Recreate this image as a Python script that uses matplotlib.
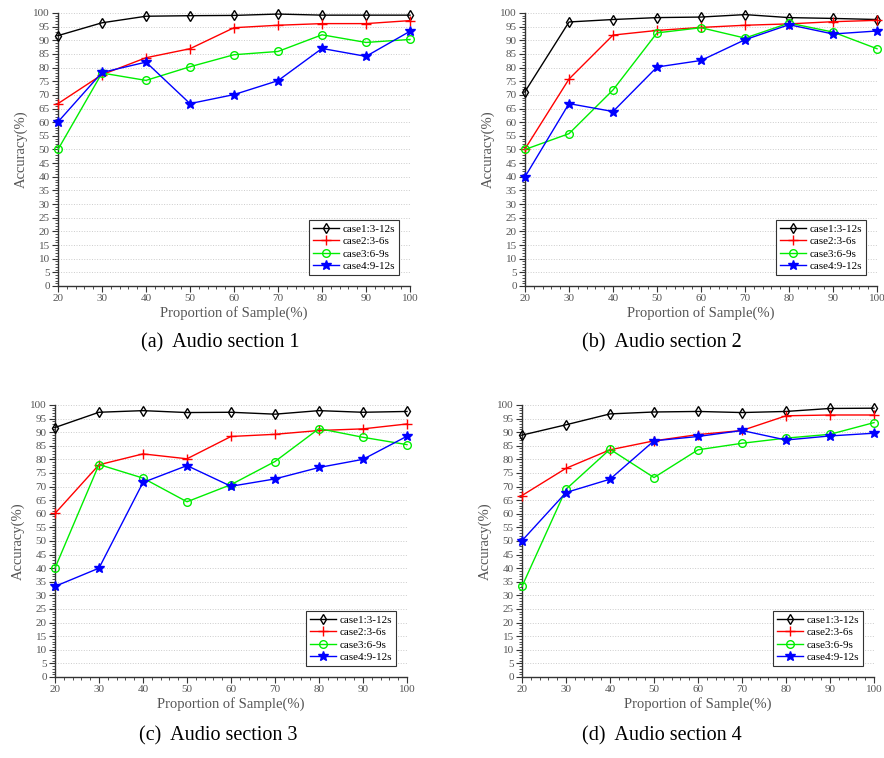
import matplotlib
matplotlib.use('Agg')
import matplotlib.pyplot as plt
from matplotlib.ticker import MultipleLocator

plt.rcParams['font.family'] = ['Liberation Serif', 'DejaVu Serif']

samples = [20, 30, 40, 50, 60, 70, 80, 90, 100]
case_names = ['case1:3-12s', 'case2:3-6s', 'case3:6-9s', 'case4:9-12s']
captions = ['(a)  Audio section 1', '(b)  Audio section 2',
            '(c)  Audio section 3', '(d)  Audio section 4']

# accuracy (%) per audio section, one list per case
sec1_case1 = [91.7, 96.4, 98.8, 99.0, 99.1, 99.6, 99.2, 99.2, 99.2]
sec1_case2 = [66.8, 77.4, 83.6, 86.9, 94.6, 95.5, 96.1, 96.1, 97.2]
sec1_case3 = [50.0, 78.0, 75.3, 80.3, 84.7, 85.9, 92.0, 89.2, 90.3]
sec1_case4 = [60.1, 78.2, 82.0, 66.8, 70.1, 75.2, 87.0, 84.1, 93.3]

sec2_case1 = [71.2, 96.7, 97.6, 98.3, 98.5, 99.4, 98.3, 98.0, 97.6]
sec2_case2 = [50.2, 75.8, 91.9, 93.6, 94.7, 95.5, 96.0, 96.8, 97.3]
sec2_case3 = [50.0, 55.8, 71.8, 92.7, 94.6, 90.8, 96.3, 93.0, 86.9]
sec2_case4 = [40.0, 66.8, 63.9, 80.2, 82.6, 90.2, 95.7, 92.3, 93.4]

sec3_case1 = [91.7, 97.3, 97.9, 97.2, 97.3, 96.6, 97.9, 97.3, 97.6]
sec3_case2 = [60.1, 78.0, 82.0, 80.2, 88.4, 89.2, 90.6, 91.2, 93.0]
sec3_case3 = [40.0, 78.1, 73.1, 64.4, 70.7, 79.2, 91.3, 88.1, 85.4]
sec3_case4 = [33.3, 40.0, 71.5, 77.7, 70.1, 72.8, 77.0, 80.0, 88.5]

sec4_case1 = [88.9, 92.7, 96.7, 97.4, 97.6, 97.2, 97.6, 98.7, 98.8]
sec4_case2 = [66.7, 76.7, 83.5, 86.8, 89.1, 90.6, 96.0, 96.3, 96.3]
sec4_case3 = [33.3, 69.0, 83.7, 73.3, 83.5, 85.9, 87.8, 89.2, 93.5]
sec4_case4 = [50.1, 67.8, 72.7, 86.8, 88.4, 90.6, 87.1, 88.6, 89.6]

sections = [
    [sec1_case1, sec1_case2, sec1_case3, sec1_case4],
    [sec2_case1, sec2_case2, sec2_case3, sec2_case4],
    [sec3_case1, sec3_case2, sec3_case3, sec3_case4],
    [sec4_case1, sec4_case2, sec4_case3, sec4_case4],
]

colors = ['black', '#ff0000', '#00ee00', '#0000ff']
markers = ['d', '+', 'o', '*']
facecols = ['none', '#ff0000', 'none', '#0000ff']
msizes = [5.5, 6.5, 5.5, 7]

txt_col = '#555555'

# axes boxes in figure fraction [left, bottom, width, height]
boxes = [
    [0.0656, 0.6227, 0.3982, 0.3602],
    [0.5939, 0.6227, 0.3982, 0.3602],
    [0.0622, 0.1069, 0.3982, 0.3589],
    [0.5905, 0.1069, 0.3982, 0.3589],
]
cap_pos = [(0.249, 0.535), (0.749, 0.535), (0.247, 0.017), (0.749, 0.017)]

fig = plt.figure(figsize=(8.84, 7.58), dpi=100)

for i, data in enumerate(sections):
    ax = fig.add_axes(boxes[i])
    for j, vals in enumerate(data):
        ax.plot(samples, vals, color=colors[j], marker=markers[j], lw=1.0,
                ms=msizes[j], mfc=facecols[j], mec=colors[j], mew=1.0,
                label=case_names[j], clip_on=False, zorder=3 + j)
    ax.set_xlim(20, 100)
    ax.set_ylim(0, 100)
    ax.xaxis.set_major_locator(MultipleLocator(10))
    ax.xaxis.set_minor_locator(MultipleLocator(2))
    ax.yaxis.set_major_locator(MultipleLocator(5))
    ax.yaxis.set_minor_locator(MultipleLocator(1))
    ax.grid(axis='y', which='major', ls=':', lw=0.7, color='#cccccc')
    ax.set_axisbelow(True)
    for s in ['top', 'right']:
        ax.spines[s].set_visible(False)
    for s in ['left', 'bottom']:
        ax.spines[s].set_color('#333333')
        ax.spines[s].set_linewidth(1.0)
    ax.tick_params(which='major', direction='out', length=4, width=0.8,
                   color='#333333', labelsize=8, labelcolor=txt_col, pad=2)
    ax.tick_params(which='minor', direction='out', length=2.5, width=0.6,
                   color='#333333')
    ax.set_xlabel('Proportion of Sample(%)', fontsize=10.5, color=txt_col,
                  labelpad=2)
    ax.set_ylabel('Accuracy(%)', fontsize=10.5, color=txt_col, labelpad=4)
    leg = ax.legend(loc='lower right', bbox_to_anchor=(0.969, 0.04),
                    borderaxespad=0, fontsize=8, fancybox=False,
                    edgecolor='#333333', framealpha=1, handlelength=2.4,
                    handletextpad=0.3, borderpad=0.35, labelspacing=0.25)
    leg.get_frame().set_linewidth(0.8)
    fig.text(cap_pos[i][0], cap_pos[i][1], captions[i], fontsize=14.5,
             ha='center', va='bottom', color='black')

fig.savefig('out.png', dpi=100)
